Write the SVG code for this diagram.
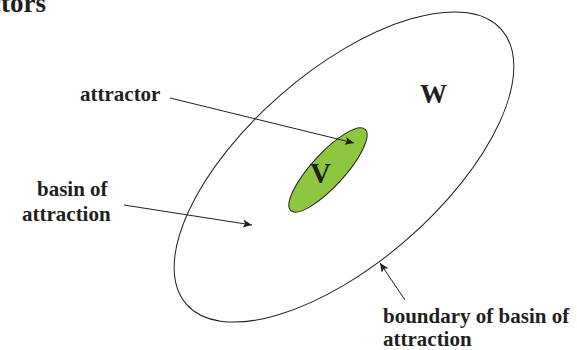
<svg xmlns="http://www.w3.org/2000/svg" width="577" height="350" viewBox="0 0 577 350">
<style>
.lbl{font-family:"Liberation Serif","Times New Roman",serif;font-weight:bold;fill:#231f20;font-size:21px}
.conn{stroke:#231f20;stroke-width:1;fill:none;marker-end:url(#ah)}
</style>
<defs>
<marker id="ah" markerUnits="userSpaceOnUse" markerWidth="10" markerHeight="8" refX="9" refY="4" orient="auto">
<path d="M0,0 L9,4 L0,8 L2,4 Z" fill="#231f20"/>
</marker>
</defs>
<rect width="577" height="350" fill="#fff"/>
<text class="lbl" x="46" y="12" text-anchor="end" style="font-size:27px">Attractors</text>
<g id="basin">
<ellipse cx="344" cy="167" rx="209" ry="96" transform="rotate(-41 344 167)" fill="none" stroke="#231f20" stroke-width="1"/>
<text class="lbl" x="420" y="103" style="font-size:27px">W</text>
</g>
<g id="attractor">
<ellipse cx="328" cy="170" rx="55" ry="16.5" transform="rotate(-47.5 328 170)" fill="#8dc63f" stroke="#231f20" stroke-width="1"/>
<text class="lbl" x="310" y="183" style="font-size:29px">V</text>
</g>
<g id="label-attractor">
<text class="lbl" x="80" y="101">attractor</text>
</g>
<g id="label-basin">
<text class="lbl" x="37" y="196">basin of</text>
<text class="lbl" x="22" y="221">attraction</text>
</g>
<g id="label-boundary">
<text class="lbl" x="383" y="323">boundary of basin of</text>
<text class="lbl" x="383" y="346">attraction</text>
</g>
<g id="connectors">
<line class="conn" x1="170" y1="98" x2="354" y2="143"/>
<line class="conn" x1="124" y1="205" x2="252" y2="225"/>
<line class="conn" x1="405" y1="300" x2="380" y2="263"/>
</g>
</svg>
